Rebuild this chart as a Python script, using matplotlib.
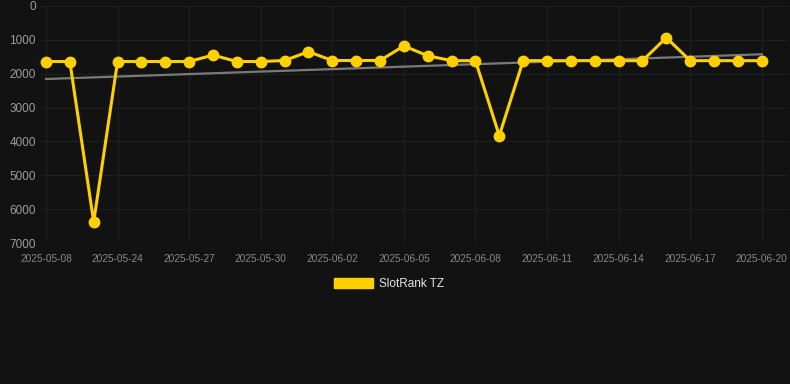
import numpy as np
import matplotlib
matplotlib.use("Agg")
import matplotlib.pyplot as plt
from matplotlib.patches import Patch

plt.rcParams['font.family'] = ['Liberation Sans', 'DejaVu Sans']

dates = ["2025-05-08"] + [f"2025-05-{d:02d}" for d in range(22, 32)] + [f"2025-06-{d:02d}" for d in range(1, 21)]
ranks = [1640, 1640, 6380, 1640, 1640, 1640, 1640, 1450, 1640, 1640,
         1610, 1350, 1610, 1610, 1610, 1180, 1470, 1615, 1615, 3830,
         1615, 1615, 1615, 1615, 1615, 1615, 935, 1615, 1615, 1615, 1615]
series_name = "SlotRank TZ"
yticks = [0, 1000, 2000, 3000, 4000, 5000, 6000, 7000]

bg = "#121212"
gold = "#FFD000"

fig = plt.figure(figsize=(7.9, 3.84), dpi=100, facecolor=bg)
ax = fig.add_axes([40/790, 1-243/384, 748/790, 237/384])
ax.set_facecolor(bg)

x = np.arange(len(ranks))
coef = np.polyfit(x, ranks, 1)
trend = np.polyval(coef, x)
ax.plot(x, trend, color="#7a7a7a", lw=1.6, zorder=2)
ax.plot(x, ranks, color=gold, lw=2.2, marker="o", ms=7.5, zorder=3,
        solid_joinstyle="miter")

ax.set_ylim(7000, 0)
ax.set_xlim(-0.25, 31.1)
ax.set_yticks(yticks)
ax.set_yticklabels([str(v) for v in yticks])
ticks = list(range(0, len(dates), 3))
ax.set_xticks(ticks)
ax.set_xticklabels([dates[i] for i in ticks])
ax.grid(True, color="#1f1f1f", lw=0.8)
ax.set_axisbelow(True)
for s in ax.spines.values():
    s.set_visible(False)
ax.tick_params(axis="y", length=0, pad=3, labelsize=8.5, labelcolor="#9c9c9c")
ax.tick_params(axis="x", length=0, pad=8, labelsize=7.3, labelcolor="#888888")

leg = fig.legend(handles=[Patch(facecolor=gold, edgecolor=gold, label=series_name)],
                 loc="center", bbox_to_anchor=(389/790, 1-284/384), frameon=False,
                 handlelength=3.3, handleheight=0.9, fontsize=8.5, labelcolor="#e6e6e6",
                 handletextpad=0.5)

fig.savefig("out.png", dpi=100, facecolor=bg)
